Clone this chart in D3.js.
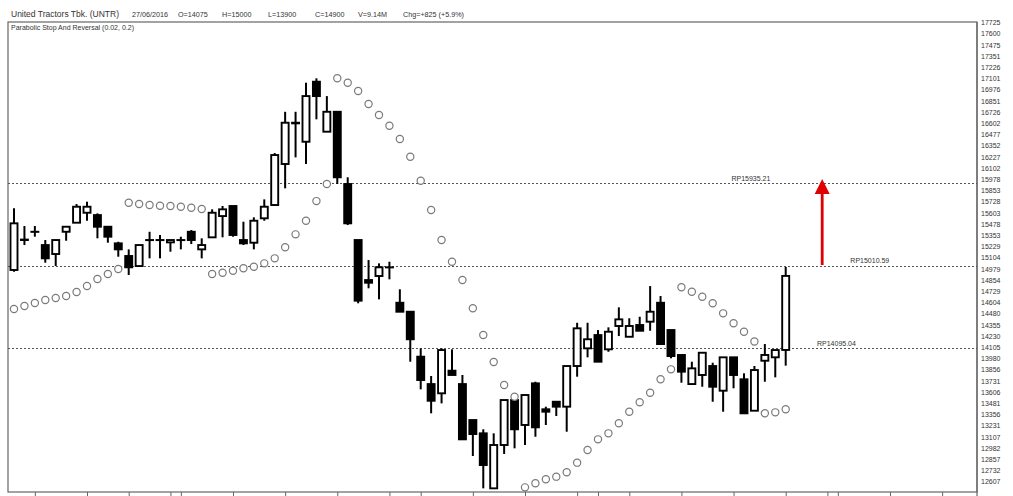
<!DOCTYPE html>
<html>
<head>
<meta charset="utf-8">
<script src="https://cdn.jsdelivr.net/npm/d3@7"></script>
<style>
  body { margin: 0; background: #fff; }
  svg text { font-family: "Liberation Sans", Arial, sans-serif; fill: #333; }
</style>
</head>
<body>
<div id="chart"></div>
<script>
// daily OHLC, 10 Mar 2016 .. 27 Jun 2016
const opens = [14966,15300,15392,15244,15144,15392,15493,15604,15578,15448,
               15263,15122,15010,15300,15300,15274,15300,15392,15196,15330,
               15567,15679,15300,15270,15542,15690,16147,16607,16395,17064,
               16507,16729,15924,15300,14854,14899,14996,14601,14501,14000,
               13695,13592,13844,13695,13294,13146,12533,13016,13517,13239,
               13703,13414,13498,13443,13896,14093,14241,14082,14342,14222,
               14353,14390,14601,14297,14019,13695,13796,13896,13621,13993,
               13748,13398,13955,13993,14075];
const highs = [15653,15456,15456,15300,15300,15448,15701,15727,15597,15448,
               15281,15196,15244,15392,15356,15300,15337,15411,15319,15642,
               15679,15679,15504,15553,15753,16269,16729,16729,17053,17102,
               16904,16729,15999,15300,15077,15040,15058,14751,14501,14093,
               13785,14093,14082,13796,13294,13191,13146,13517,13554,13573,
               13721,13443,13498,13896,14378,14378,14297,14327,14550,14428,
               14445,14787,14676,14297,14019,13944,14044,13933,13993,13993,
               13815,13896,14141,14074,15000];
const lows = [14947,15244,15337,15047,15010,15292,15493,15515,15319,15270,
              15114,14910,15003,15096,15096,15170,15196,15255,15096,15330,
              15330,15337,15244,15196,15515,15679,15876,16221,16147,16645,
              16507,15924,15467,14595,14762,14639,14862,14501,13944,13636,
              13369,13480,13796,13079,12893,12533,12533,12916,12979,13016,
              13108,13239,13339,13164,13777,13993,13944,14055,14230,14222,
              14289,14289,14141,13982,13710,13695,13665,13498,13387,13648,
              13369,13398,13721,13770,13900];
const closes = [15486,15305,15392,15096,15300,15448,15671,15671,15448,15337,
                15196,14996,15244,15300,15300,15300,15300,15300,15244,15604,
                15642,15356,15263,15515,15671,16247,16607,16600,16904,16904,
                16729,15999,15486,14624,14824,14996,14996,14501,14194,13740,
                13509,14074,13796,13079,13138,12793,13016,13517,13191,13573,
                13213,13387,13443,13896,14316,14194,13944,14278,14416,14342,
                14289,14501,14141,14007,13833,13870,14044,13665,13993,13796,
                13369,13851,14019,14074,14900];
// parabolic SAR (0.02, 0.2)
const sar = [14531,14565,14598,14632,14654,14676,14721,14788,14866,14921,
             14977,15716,15701,15690,15682,15679,15671,15660,15646,14921,
             14936,14958,14985,15002,15040,15096,15219,15363,15515,15734,
             15924,17102,17053,16960,16815,16693,16573,16425,16228,15961,
             15634,15300,15058,14854,14539,14241,13941,13684,13554,12544,
             12589,12634,12663,12712,12819,12960,13079,13146,13258,13387,
             13492,13599,13748,13859,14773,14724,14668,14595,14483,14372,
             14278,14169,13369,13380,13414];

const yTicks = [17725,17600,17475,17351,17226,17101,16976,16851,16726,16602,
                16477,16352,16227,16102,15978,15853,15728,15603,15478,15353,
                15229,15104,14979,14854,14729,14604,14480,14355,14230,14105,
                13980,13856,13731,13606,13481,13356,13231,13107,12982,12857,
                12732,12607];
const xTickIdx = [2,7,11,15,16,21,26,31,36,39,44,49,54,56,59,64,69,74,78,79,84,89];
const xTickLabels = ["14","21","28","1","4","11","18","25","2","9","16","23",
                     "30","1","6","13","20","27","1","4","11","18"];

const levels = [15935.21, 15010.59, 14095.04];
const levelNames = ["RP15935.21", "RP15010.59", "RP14095.04"];

const header = ["United Tractors Tbk. (UNTR)", "27/06/2016", "O=14075", "H=15000",
                "L=13900", "C=14900", "V=9.14M", "Chg=+825 (+5.9%)"];

const width = 1013, height = 496;
const plot = {left: 8, right: 977, top: 22, bottom: 492};

const svg = d3.select("#chart")
    .append("svg")
    .attr("width", width)
    .attr("height", height);

const x = d3.scaleLinear().domain([0, 74]).range([14, 785.7]);
const y = d3.scaleLinear().domain([12607, 17725]).range([481.7, 22.4]);

// header line
const headerX = [11, 132, 178, 222, 268, 315, 358, 403];
svg.selectAll(".hdr").data(header).enter()
    .append("text")
    .attr("class", "hdr")
    .attr("x", (d, i) => headerX[i])
    .attr("y", 17)
    .attr("font-size", (d, i) => i == 0 ? 8.5 : 7.2)
    .text(d => d);

// frame
svg.append("rect")
    .attr("x", plot.left).attr("y", plot.top)
    .attr("width", plot.right - plot.left)
    .attr("height", plot.bottom - plot.top)
    .attr("fill", "none")
    .attr("stroke", "#666")
    .attr("stroke-width", 1.2);

svg.append("text")
    .attr("x", 11).attr("y", 29.5)
    .attr("font-size", 7)
    .attr("fill", "#222")
    .text("Parabolic Stop And Reversal (0.02, 0.2)");

// right price axis
const yAxis = svg.append("g")
    .attr("transform", `translate(${plot.right}, 0)`)
    .call(d3.axisRight(y).tickValues(yTicks).tickSize(0).tickPadding(4).tickFormat(d => d));
yAxis.select(".domain").attr("stroke", "#666").attr("stroke-width", 1.2)
    .attr("d", `M0,${plot.top}V${height}`);
yAxis.selectAll("text")
    .attr("font-size", 7)
    .attr("font-family", "Liberation Sans, Arial, sans-serif")
    .attr("fill", "#333");

// bottom date ticks (labels fall mostly off the picture, as in the original)
const xAxis = svg.append("g")
    .attr("transform", `translate(0, ${plot.bottom})`)
    .call(d3.axisBottom(x).tickValues(xTickIdx).tickSize(5).tickPadding(0)
        .tickFormat((d, i) => xTickLabels[i]));
xAxis.select(".domain").remove();
xAxis.selectAll("line").attr("stroke", "#666");
xAxis.selectAll("text")
    .attr("font-size", 7)
    .attr("text-anchor", "start")
    .attr("dx", 2)
    .attr("font-family", "Liberation Sans, Arial, sans-serif")
    .attr("fill", "#555");

// dashed price levels
svg.selectAll(".level").data(levels).enter()
    .append("line")
    .attr("class", "level")
    .attr("x1", plot.left).attr("x2", plot.right)
    .attr("y1", d => Math.round(y(d)) + 0.5)
    .attr("y2", d => Math.round(y(d)) + 0.5)
    .attr("stroke", "#555")
    .attr("stroke-width", 1)
    .attr("stroke-dasharray", "2,2");

const levelLabelIdx = [68.8, 80.2, 77.0];
svg.selectAll(".level-label").data(levels).enter()
    .append("text")
    .attr("class", "level-label")
    .attr("x", (d, i) => x(levelLabelIdx[i]))
    .attr("y", d => y(d) - 2.5)
    .attr("font-size", 7)
    .attr("fill", "#444")
    .text((d, i) => levelNames[i]);

const candles = opens.map((o, i) => ({i: i, o: o, h: highs[i], l: lows[i], c: closes[i]}));

const g = svg.append("g");

// wicks
g.selectAll(".wick").data(candles).enter()
    .append("line")
    .attr("class", "wick")
    .attr("x1", d => x(d.i)).attr("x2", d => x(d.i))
    .attr("y1", d => y(d.h)).attr("y2", d => y(d.l))
    .attr("stroke", "#000")
    .attr("stroke-width", 2);

// bodies
const bodyW = 7;
g.selectAll(".body").data(candles).enter()
    .append("rect")
    .attr("class", "body")
    .attr("x", d => x(d.i) - bodyW / 2)
    .attr("y", d => y(Math.max(d.o, d.c)))
    .attr("width", bodyW)
    .attr("height", d => Math.max(0.1, Math.abs(y(d.o) - y(d.c))))
    .attr("fill", d => d.c >= d.o ? "#fff" : "#000")
    .attr("stroke", "#000")
    .attr("stroke-width", 1.9);

// SAR dots
g.selectAll(".sar").data(sar).enter()
    .append("circle")
    .attr("class", "sar")
    .attr("cx", (d, i) => x(i))
    .attr("cy", d => y(d))
    .attr("r", 3.6)
    .attr("fill", "#fff")
    .attr("stroke", "#7a7a7a")
    .attr("stroke-width", 1.2);

// red target arrow
const ax = x(77.5);
const tipY = y(levels[0]) - 4;
svg.append("line")
    .attr("x1", ax).attr("x2", ax)
    .attr("y1", y(levels[1]) - 1)
    .attr("y2", tipY + 13)
    .attr("stroke", "#e00000")
    .attr("stroke-width", 2.8);
svg.append("path")
    .attr("d", `M${ax},${tipY}L${ax + 7.5},${tipY + 15}L${ax - 7.5},${tipY + 15}Z`)
    .attr("fill", "#e00000");
</script>
</body>
</html>
